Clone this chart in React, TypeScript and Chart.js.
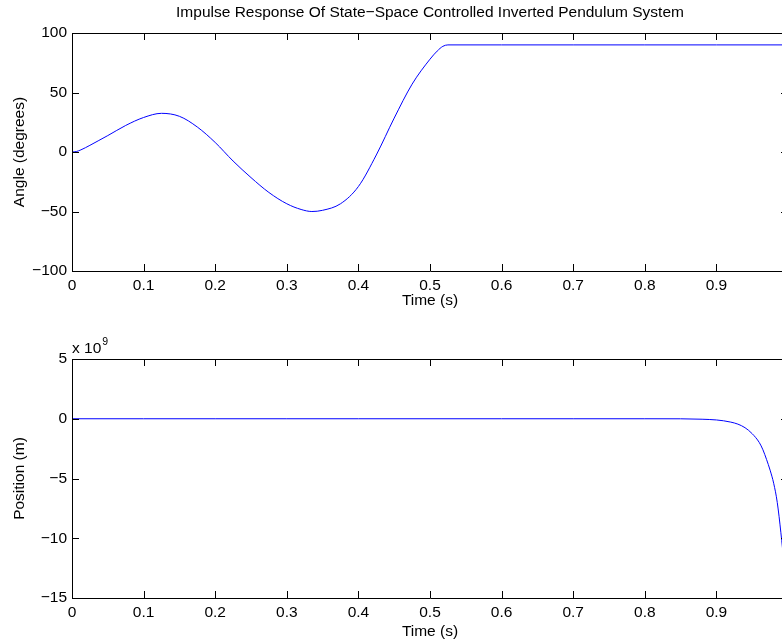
import React, { useEffect, useRef } from "react";
import { Chart, registerables } from "chart.js";

Chart.register(...registerables);

const TITLE = "Impulse Response Of State\u2212Space Controlled Inverted Pendulum System";
const X_TITLE = "Time (s)";
const ANGLE_TITLE = "Angle (degrees)";
const POS_TITLE = "Position (m)";
const POS_EXPONENT = "9";

const angleTime = [0, 0.006, 0.0125, 0.025, 0.0375, 0.05, 0.075, 0.1, 0.125, 0.15, 0.175, 0.2, 0.225, 0.25, 0.275, 0.3, 0.32, 0.335, 0.35, 0.375, 0.4, 0.425, 0.45, 0.475, 0.5, 0.51, 0.518, 0.525, 0.6, 0.7, 0.8, 0.9, 1.0];
const angleDeg = [0, 0.4, 1.8, 5.6, 9.7, 13.8, 22.3, 29, 32.5, 30, 21, 8, -7.6, -21.5, -34, -43.5, -48.3, -50, -49, -43.5, -29, -2.5, 28.5, 57, 78, 84.8, 88.8, 90, 90, 90, 90, 90, 90];

const posTime = [0, 0.1, 0.2, 0.3, 0.4, 0.5, 0.6, 0.7, 0.8, 0.85, 0.88, 0.9, 0.91, 0.92, 0.93, 0.94, 0.95, 0.96, 0.965, 0.97, 0.975, 0.98, 0.985, 0.99, 0.995, 1.0];
const posVal = [0, 0, 0, 0, 0, 0, 0, 0, 0, -0.005, -0.04, -0.1, -0.17, -0.28, -0.45, -0.75, -1.25, -2.0, -2.6, -3.4, -4.3, -5.4, -7.0, -9.5, -12.5, -16];

const xMin = 0, xMax = 1, xStep = 0.1;
const angleMin = -100, angleMax = 100, angleStep = 50;
const posMin = -15, posMax = 5, posStep = 5;

const FONT = "'Liberation Sans', Arial, Helvetica, sans-serif";
const FS = 15.5;
const TICK = 7;

const fmt = (v: number) => {
  const r = Math.round(v * 1000) / 1000;
  return r < 0 ? "\u2212" + String(Math.abs(r)) : String(r);
};

const boxPlugin = {
  id: "matlabBox",
  afterDatasetsDraw(chart: any, _args: any, opts: any) {
    const { ctx, chartArea } = chart;
    const { left, right, top, bottom } = chartArea;
    const xs = chart.scales.x;
    const ys = chart.scales.y;
    ctx.save();
    ctx.strokeStyle = "#000";
    ctx.lineWidth = 1;
    ctx.beginPath();
    ctx.rect(Math.round(left) + 0.5, Math.round(top) + 0.5, Math.round(right - left), Math.round(bottom - top));
    xs.ticks.forEach((t: any) => {
      const px = Math.round(xs.getPixelForValue(t.value)) + 0.5;
      ctx.moveTo(px, bottom);
      ctx.lineTo(px, bottom - TICK);
      ctx.moveTo(px, top);
      ctx.lineTo(px, top + TICK);
    });
    ys.ticks.forEach((t: any) => {
      const py = Math.round(ys.getPixelForValue(t.value)) + 0.5;
      ctx.moveTo(left, py);
      ctx.lineTo(left + TICK, py);
      ctx.moveTo(right, py);
      ctx.lineTo(right - TICK, py);
    });
    ctx.stroke();
    ctx.fillStyle = "#000";
    if (opts && opts.title) {
      ctx.font = `${FS}px ${FONT}`;
      ctx.textAlign = "center";
      ctx.textBaseline = "middle";
      ctx.fillText(opts.title, (left + right) / 2, 13);
    }
    if (opts && opts.exponent) {
      ctx.font = `${FS}px ${FONT}`;
      ctx.textAlign = "left";
      ctx.textBaseline = "alphabetic";
      const base = "x 10";
      ctx.fillText(base, left, top - 6);
      const w = ctx.measureText(base).width;
      ctx.font = `${10.5}px ${FONT}`;
      ctx.fillText(opts.exponent, left + w + 1, top - 14);
    }
    ctx.restore();
  },
};

function makeConfig(
  times: number[],
  vals: number[],
  yMin: number,
  yMax: number,
  yStep: number,
  yTitle: string,
  padTop: number,
  xHeight: number,
  xLabelPad: number,
  xTitlePad: number,
  pluginOpts: any
): any {
  return {
    type: "line",
    data: {
      datasets: [
        {
          data: times.map((t, i) => ({ x: t, y: vals[i] })),
          borderColor: "#0000ff",
          borderWidth: 1,
          pointRadius: 0,
          fill: false,
          cubicInterpolationMode: "monotone",
        },
      ],
    },
    options: {
      animation: false,
      responsive: false,
      devicePixelRatio: 1,
      layout: { padding: { top: padTop, right: 12, left: 0, bottom: 0 } },
      plugins: {
        legend: { display: false },
        tooltip: { enabled: false },
        title: { display: false },
        matlabBox: pluginOpts,
      },
      scales: {
        x: {
          type: "linear",
          min: xMin,
          max: xMax,
          grid: { display: false, drawTicks: false },
          border: { display: false },
          ticks: {
            stepSize: xStep,
            autoSkip: false,
            maxRotation: 0,
            padding: xLabelPad,
            color: "#000",
            font: { family: FONT, size: FS },
            callback: (v: any) => fmt(Number(v)),
          },
          title: {
            display: true,
            text: X_TITLE,
            color: "#000",
            font: { family: FONT, size: FS },
            padding: { top: 0, bottom: xTitlePad },
          },
          afterFit: (s: any) => {
            s.height = xHeight;
          },
        },
        y: {
          type: "linear",
          min: yMin,
          max: yMax,
          grid: { display: false, drawTicks: false },
          border: { display: false },
          ticks: {
            stepSize: yStep,
            padding: 5,
            color: "#000",
            font: { family: FONT, size: FS },
            callback: (v: any) => fmt(Number(v)),
          },
          title: {
            display: true,
            text: yTitle,
            color: "#000",
            font: { family: FONT, size: FS },
            padding: { top: 10, bottom: 0 },
          },
          afterFit: (s: any) => {
            s.width = 72;
          },
        },
      },
    },
    plugins: [boxPlugin],
  };
}

export default function App() {
  const topRef = useRef<HTMLCanvasElement>(null);
  const botRef = useRef<HTMLCanvasElement>(null);

  useEffect(() => {
    document.body.style.margin = "0";
    const c1 = new Chart(
      topRef.current as HTMLCanvasElement,
      makeConfig(angleTime, angleDeg, angleMin, angleMax, angleStep, ANGLE_TITLE, 33, 49, 5, 10, { title: TITLE })
    );
    const c2 = new Chart(
      botRef.current as HTMLCanvasElement,
      makeConfig(posTime, posVal, posMin, posMax, posStep, POS_TITLE, 39, 43, 5, 0, { exponent: POS_EXPONENT })
    );
    return () => {
      c1.destroy();
      c2.destroy();
    };
  }, []);

  return (
    <div
      style={{
        position: "fixed",
        left: 0,
        top: 0,
        width: 782,
        height: 641,
        overflow: "hidden",
        background: "#fff",
      }}
    >
      <canvas ref={topRef} width={800} height={320} style={{ position: "absolute", left: 0, top: 0 }} />
      <canvas ref={botRef} width={800} height={321} style={{ position: "absolute", left: 0, top: 320 }} />
    </div>
  );
}
